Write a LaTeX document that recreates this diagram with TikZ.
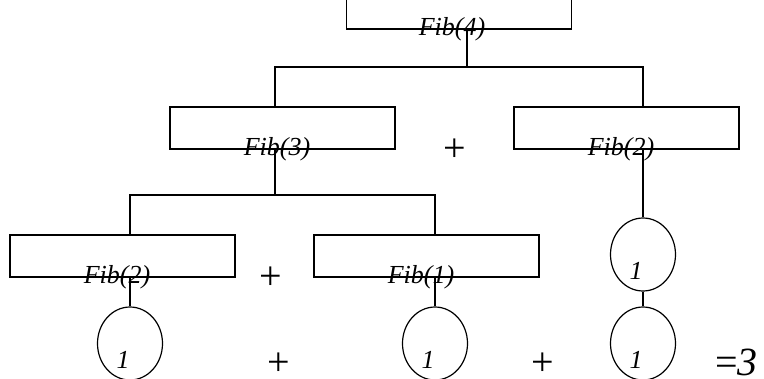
\documentclass[tikz,border=0pt]{standalone}
\usepackage{fontspec}
\setmainfont{Liberation Serif}
\usetikzlibrary{shapes.geometric}

\tikzset{
  callbox/.style={draw, line width=1.2pt, minimum width=225pt, minimum height=42pt, inner sep=0pt},
  leaf/.style={draw, ellipse, line width=1.2pt, minimum width=65pt, minimum height=73pt, inner sep=0pt},
  calltext/.style={anchor=base, inner sep=0pt, font=\fontsize{26}{28}\selectfont\itshape},
  op/.style={inner sep=0pt, font=\fontsize{40}{44}\selectfont},
  wire/.style={line width=1.2pt}
}

\begin{document}
\begin{tikzpicture}[x=1pt, y=-1pt]
\useasboundingbox (0,0) rectangle (764,378);

% call boxes
\node[callbox] (f4)  at (459,8)     {};
\node[callbox] (f3)  at (282.5,128) {};
\node[callbox] (f2r) at (626.5,128) {};
\node[callbox] (f2l) at (122.5,256) {};
\node[callbox] (f1)  at (426.5,256) {};

% base cases
\node[leaf] (e1) at (130,343.5)   {};
\node[leaf] (e2) at (435,343.5)   {};
\node[leaf] (e3) at (643,254.5) {};
\node[leaf] (e4) at (643,343.5)   {};

% box captions
\node[calltext] (t4)  at ([xshift=-7pt,yshift=-6pt]f4.south)    {Fib(4)};
\node[calltext] (t3)  at ([xshift=-5.5pt,yshift=-6pt]f3.south)  {Fib(3)};
\node[calltext] (t2r) at ([xshift=-5.5pt,yshift=-6pt]f2r.south) {Fib(2)};
\node[calltext] (t2l) at ([xshift=-5.5pt,yshift=-6pt]f2l.south) {Fib(2)};
\node[calltext] (t1)  at ([xshift=-5.5pt,yshift=-6pt]f1.south)  {Fib(1)};

% leaf values
\node[calltext] (v1) at ([xshift=-7pt,yshift=-25pt]e1.center) {1};
\node[calltext] (v2) at ([xshift=-7pt,yshift=-25pt]e2.center) {1};
\node[calltext] (v3) at ([xshift=-7pt,yshift=-25pt]e3.center) {1};
\node[calltext] (v4) at ([xshift=-7pt,yshift=-25pt]e4.center) {1};

% operators
\node[op] (p1) at (455,150) {+};
\node[op] (p2) at (271,278) {+};
\node[op] (p3) at (279,364) {+};
\node[op] (p4) at (543,364) {+};
\node[op, anchor=base west] (res) at (715,375) {=\textit{3}};

% junctions
\coordinate (j4) at (467,67);
\coordinate (j3) at (275,195);

% connectors
\draw[wire] ([xshift=8pt]f4.south) -- (j4);
\draw[wire] ([xshift=-7.5pt]f3.north) |- (j4) -| ([xshift=16.5pt]f2r.north);
\draw[wire] ([xshift=-7.5pt]f3.south) -- (j3);
\draw[wire] ([xshift=7.5pt]f2l.north) |- (j3) -| ([xshift=8.5pt]f1.north);
\draw[wire] ([xshift=7.5pt]f2l.south) -- (e1.north);
\draw[wire] ([xshift=8.5pt]f1.south) -- (e2.north);
\draw[wire] ([xshift=16.5pt]f2r.south) -- (e3.north);
\draw[wire] (e3.south) -- (e4.north);
\end{tikzpicture}
\end{document}
